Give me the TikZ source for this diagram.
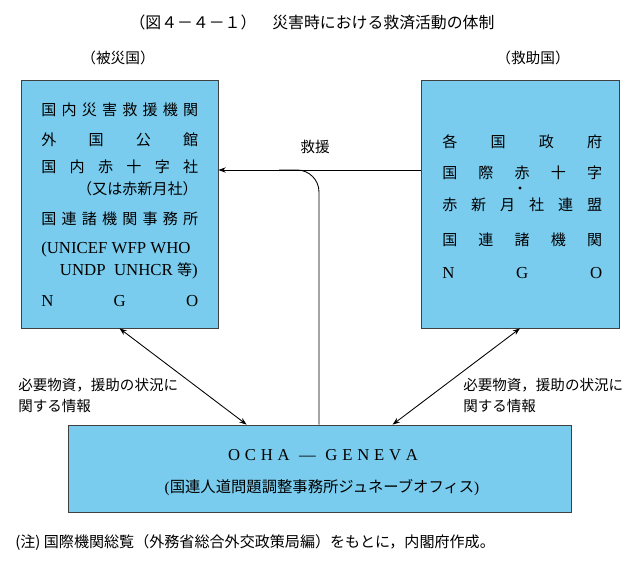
\documentclass[tikz,border=0pt]{standalone}
\usepackage{fontspec}
\setmainfont{Noto Sans CJK JP}
\newfontfamily\lat{Liberation Serif}
\usetikzlibrary{arrows.meta,calc}
\definecolor{boxblue}{RGB}{122,204,238}
\begin{document}
\begin{tikzpicture}[x=0.75pt,y=-0.75pt,
  box/.style={draw=black!75, fill=boxblue, line width=0.6pt, inner sep=0, rectangle},
  txt/.style={inner sep=0, anchor=west, font=\fontsize{11.3}{13}\selectfont},
  txtr/.style={inner sep=0, anchor=east, font=\fontsize{11.3}{13}\selectfont},
  latt/.style={inner sep=0, anchor=west, font=\lat\fontsize{12.6}{14}\selectfont},
  lbl/.style={inner sep=0, anchor=west, font=\fontsize{10.9}{13}\selectfont},
  arr/.style={-{Stealth[length=5.5pt,width=4pt]}, line width=0.65pt},
  darr/.style={{Stealth[length=5.5pt,width=4pt]}-{Stealth[length=5.5pt,width=4pt]}, line width=0.65pt}]
\useasboundingbox (0,0) rectangle (640,566);
% boxes
\node[box, minimum width=147.75pt, minimum height=186pt] (lb) at (119.5,204) {};
\node[box, minimum width=148.5pt, minimum height=186pt] (rb) at (520,204) {};
\node[box, minimum width=377.25pt, minimum height=65.25pt] (oc) at (319.5,468.5) {};
% title
\node[inner sep=0, font=\fontsize{11.9}{14}\selectfont] (title) at (312,22) {（図４－４－１）　災害時における救済活動の体制};
\node[inner sep=0, font=\fontsize{11}{13}\selectfont] (hi) at (118,58) {（被災国）};
\node[inner sep=0, font=\fontsize{11}{13}\selectfont] (kyu) at (533,58) {（救助国）};
% left box text
\node[txt] (l1) at (41,110) {\makebox[117.75pt][s]{国\hfill 内\hfill 災\hfill 害\hfill 救\hfill 援\hfill 機\hfill 関}};
\node[txt] (l2) at (41,140) {\makebox[117.75pt][s]{外\hfill 国\hfill 公\hfill 館}};
\node[txt] (l3) at (41,167) {\makebox[117.75pt][s]{国\hfill 内\hfill 赤\hfill 十\hfill 字\hfill 社}};
\node[txtr] (l4) at (198,189) {（又は赤新月社）};
\node[txt] (l5) at (41,219) {\makebox[117.75pt][s]{国\hfill 連\hfill 諸\hfill 機\hfill 関\hfill 事\hfill 務\hfill 所}};
\node[latt] (l6) at (41,249) {(UNICEF WFP WHO};
\node[latt, anchor=east] (l7) at (198,271) {UNDP\ \ UNHCR {\fontspec{Noto Sans CJK JP}\fontsize{11.3}{13}\selectfont 等})};
\node[latt] (l8) at (41,301) {\makebox[117.75pt][s]{N\hfill G\hfill O}};
% right box text
\node[txt] (r1) at (442,142) {\makebox[120pt][s]{各\hfill 国\hfill 政\hfill 府}};
\node[txt] (r2) at (442,173) {\makebox[120pt][s]{国\hfill 際\hfill 赤\hfill 十\hfill 字}};
\node[circle, fill=black, inner sep=0, minimum size=2.4pt] (dot) at (520,188) {};
\node[txt] (r3) at (442,205) {\makebox[120pt][s]{赤\hfill 新\hfill 月\hfill 社\hfill 連\hfill 盟}};
\node[txt] (r4) at (442,240) {\makebox[120pt][s]{国\hfill 連\hfill 諸\hfill 機\hfill 関}};
\node[latt] (r5) at (442,273) {\makebox[120pt][s]{N\hfill G\hfill O}};
% OCHA text
\node[inner sep=0, font=\lat\fontsize{12.5}{14}\selectfont] (o1) at (323,455) {\makebox[142.5pt][s]{O\hfill C\hfill H\hfill A\hfill\hfill —\hfill\hfill G\hfill E\hfill N\hfill E\hfill V\hfill A}};
\node[inner sep=0, font=\fontsize{11.5}{14}\selectfont] (o2) at (322,488) {{\lat(}国連人道問題調整事務所ジュネーブオフィス{\lat)}};
% connectors
\coordinate (j) at (319,170);
\draw[arr] (rb.west |- j) -- (lb.east |- j);
\draw[line width=0.65pt, rounded corners=16.5pt] (oc.north -| j) -- (j) -- ($(j)+(-40,0)$);
\node[inner sep=0, font=\fontsize{11}{13}\selectfont] (rescue) at (315,147) {救援};
\draw[darr] (lb.south) -- ($(oc.north west)+(179,0)$);
\draw[darr] (rb.south) -- ($(oc.north west)+(325,0)$);
% labels
\node[lbl] (la1) at (18,385) {必要物資，援助の状況に};
\node[lbl] (la2) at (18,406) {関する情報};
\node[lbl] (ra1) at (463,385) {必要物資，援助の状況に};
\node[lbl] (ra2) at (463,406) {関する情報};
% footnote
\node[inner sep=0, anchor=west, font=\fontsize{11.3}{13}\selectfont] (note) at (15,543) {(注) 国際機関総覧（外務省総合外交政策局編）をもとに，内閣府作成。};
\end{tikzpicture}
\end{document}
